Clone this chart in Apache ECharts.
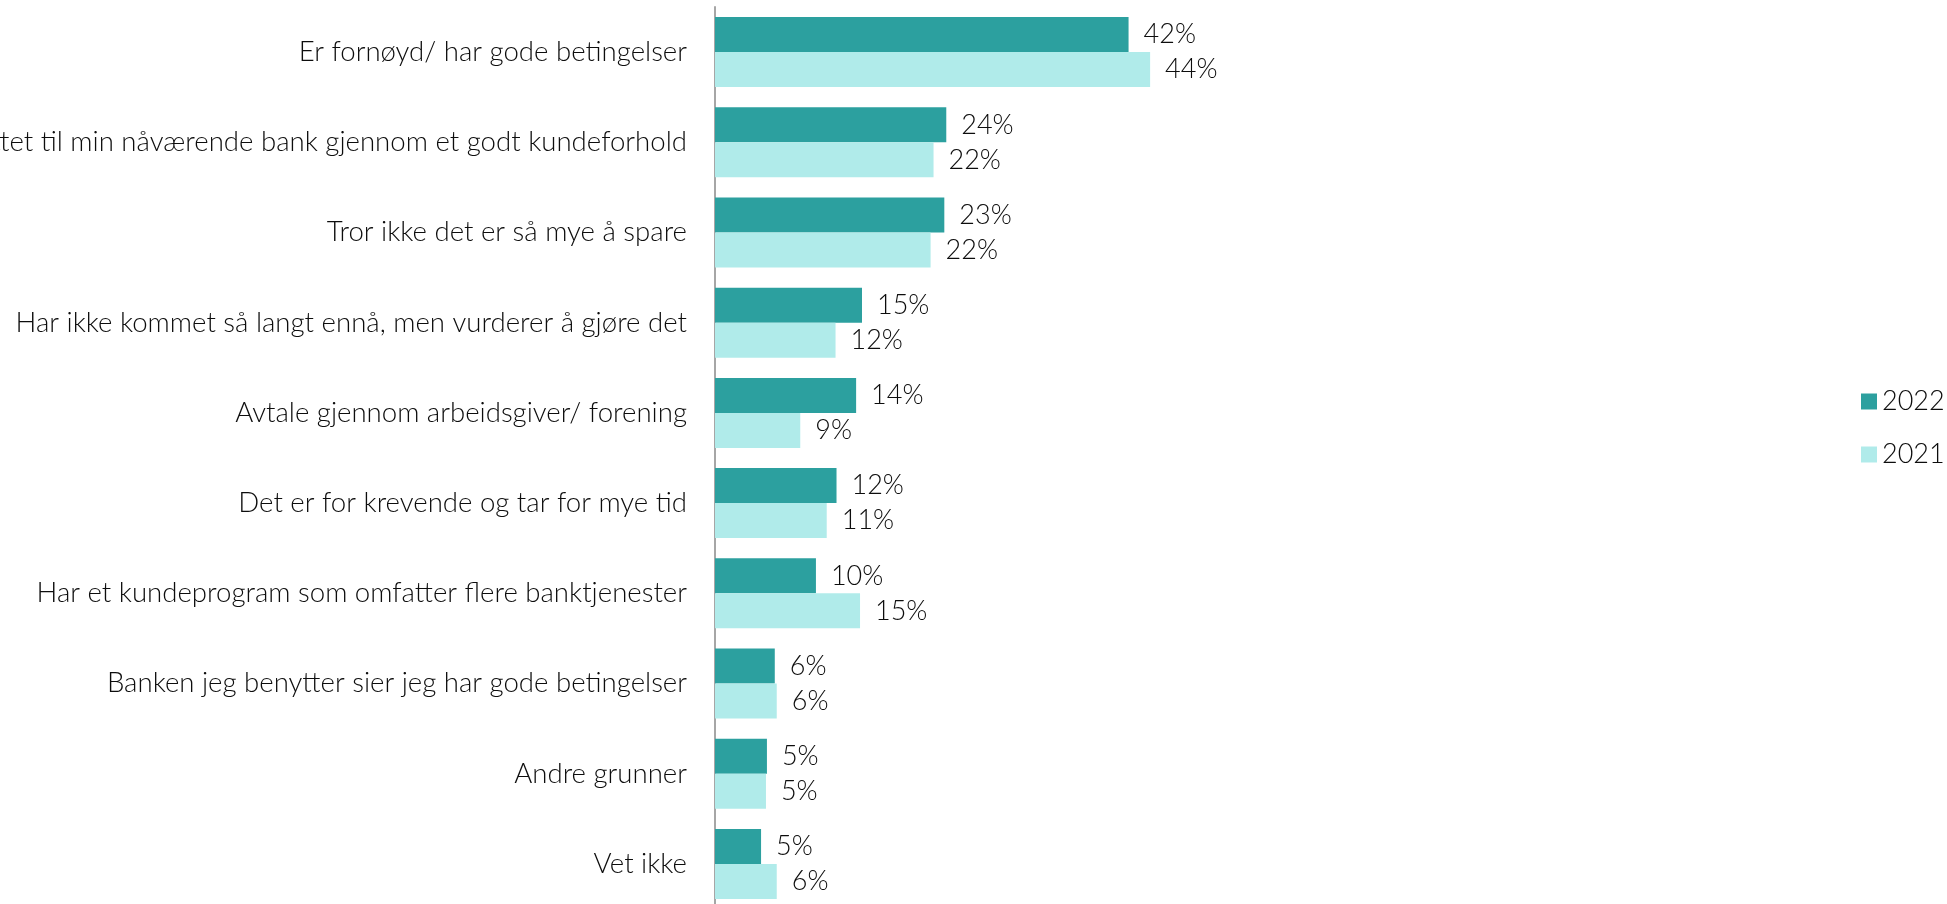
<!DOCTYPE html>
<html>
<head>
<meta charset="utf-8">
<script src="https://cdn.jsdelivr.net/npm/echarts@6/dist/echarts.min.js"></script>
<style>
html,body{margin:0;padding:0;background:#fff;}
#c{width:1947px;height:904px;}
</style>
</head>
<body>
<div id="c"></div>
<script>
const categories = [
  "Er fornøyd/ har gode betingelser",
  "Er knyttet til min nåværende bank gjennom et godt kundeforhold",
  "Tror ikke det er så mye å spare",
  "Har ikke kommet så langt ennå, men vurderer å gjøre det",
  "Avtale gjennom arbeidsgiver/ forening",
  "Det er for krevende og tar for mye tid",
  "Har et kundeprogram som omfatter flere banktjenester",
  "Banken jeg benytter sier jeg har gode betingelser",
  "Andre grunner",
  "Vet ikke"
];
const values2022 = [42.2, 23.6, 23.4, 15.0, 14.4, 12.4, 10.3, 6.1, 5.3, 4.7];
const values2021 = [44.4, 22.3, 22.0, 12.3, 8.7, 11.4, 14.8, 6.3, 5.2, 6.3];
const seriesNames = ["2022", "2021"];
const colors = ["#2ca09f", "#b0ebea"];

const FONT = "Lato, 'Open Sans', sans-serif";
const TXT = '#0d0d0d';
const chart = echarts.init(document.getElementById('c'), null, {renderer: 'canvas'});
const labelCfg = {
  show: true,
  position: 'right',
  distance: 15,
  color: TXT,
  fontSize: 27,
  fontFamily: FONT,
  fontWeight: 300,
  formatter: p => Math.round(p.value) + '%'
};
chart.setOption({
  animation: false,
  backgroundColor: '#fff',
  grid: {left: 715, top: 7, width: 980, height: 902, containLabel: false, outerBoundsMode: 'none'},
  xAxis: {type: 'value', min: 0, max: 100, show: false},
  yAxis: {
    type: 'category',
    data: categories,
    inverse: true,
    axisLine: {show: true, lineStyle: {color: '#a6a6a6', width: 2}},
    axisTick: {show: false},
    splitLine: {show: false},
    axisLabel: {
      margin: 28,
      color: TXT,
      fontSize: 27.6,
      fontFamily: FONT,
      fontWeight: 300
    }
  },
  legend: {
    orient: 'vertical',
    left: 1856,
    top: 383,
    itemWidth: 16,
    itemHeight: 16,
    itemGap: 26,
    icon: 'rect',
    textStyle: {color: TXT, fontSize: 27, fontFamily: FONT, fontWeight: 300},
    data: seriesNames
  },
  series: [
    {name: seriesNames[0], type: 'bar', data: values2022, barWidth: 35, barGap: '0%',
     itemStyle: {color: colors[0]}, label: labelCfg},
    {name: seriesNames[1], type: 'bar', data: values2021, barWidth: 35, barGap: '0%',
     itemStyle: {color: colors[1]}, label: labelCfg}
  ]
});
</script>
</body>
</html>
